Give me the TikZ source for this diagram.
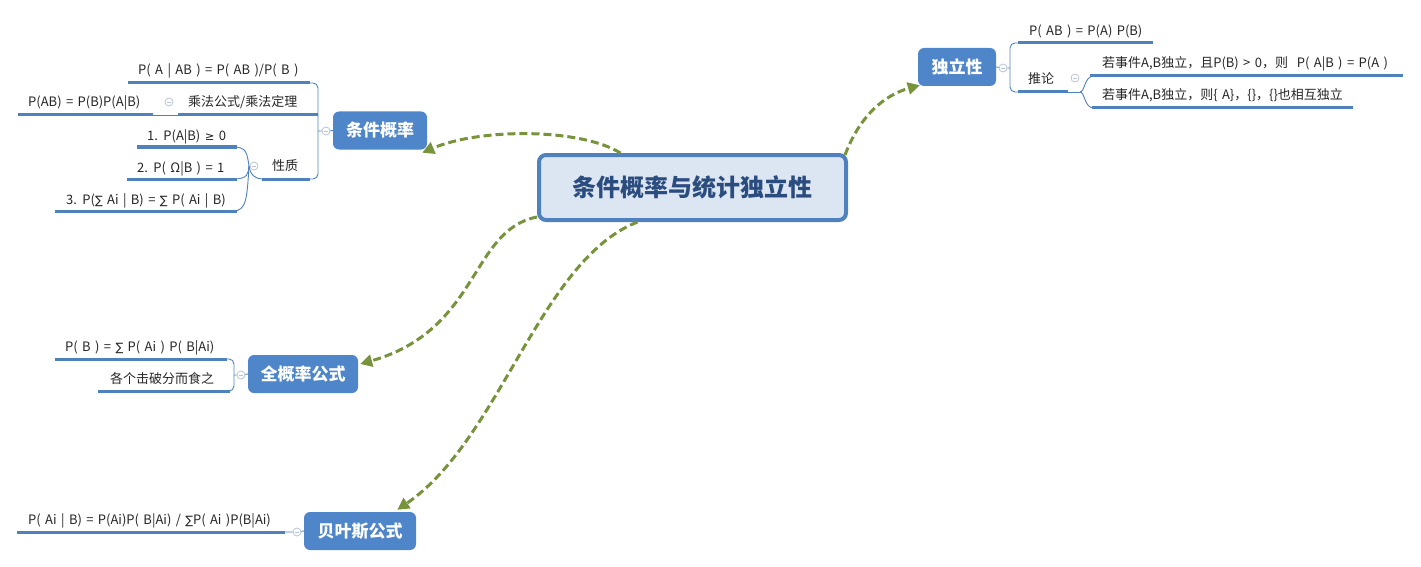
\documentclass[tikz,border=0pt]{standalone}
\usepackage{fontspec}
\setmainfont{Noto Sans CJK SC}
\newfontfamily\symf{DejaVu Sans}
\usetikzlibrary{arrows.meta}
\definecolor{lineblue}{HTML}{4F81BD}
\definecolor{nodeblue}{HTML}{4F86C9}
\definecolor{mainfill}{HTML}{DCE6F2}
\definecolor{maintext}{HTML}{2B4C7E}
\definecolor{conncol}{HTML}{77933C}
\definecolor{circ}{HTML}{B8C4D6}
\newcommand{\Sg}{{\symf\fontsize{11.5}{13}\selectfont ∑}}
\newcommand{\Geq}{{\symf\fontsize{11.5}{13}\selectfont ≥}}
\newcommand{\widesp}{\spaceskip 4.4pt\relax}
\tikzset{
  mainbox/.style={draw=lineblue, line width=4pt, fill=mainfill, rounded corners=7pt,
    minimum width=307pt, minimum height=65pt, inner sep=0pt,
    font=\fontsize{24}{28}\selectfont\bfseries, text=maintext},
  topic/.style={fill=nodeblue, rounded corners=6pt, text=white, inner sep=0pt,
    font=\fontsize{17}{20}\selectfont\bfseries, minimum height=38pt},
  leaf/.style={anchor=base west, inner sep=0pt, font=\fontsize{13}{15}\selectfont,
    execute at begin node=\widesp, text=black!85},
  uline/.style={draw=lineblue, line width=3pt},
  thinl/.style={draw=lineblue, line width=0.9pt},
  collapse/.style={circle, draw=circ, fill=white, minimum size=8pt, inner sep=0pt, line width=0.8pt,
    path picture={\draw[circ, line width=0.8pt] ([xshift=-2.2pt]path picture bounding box.center) -- ([xshift=2.2pt]path picture bounding box.center);}},
  conn/.style={draw=conncol, line width=3pt, dash pattern=on 8pt off 4pt,
    -{Triangle[length=12pt,width=12pt]}}
}
\begin{document}
\begin{tikzpicture}[x=1pt, y=-1pt]
\useasboundingbox (0,0) rectangle (1421,567);

% main and topic nodes
\node[mainbox] (main) at (692.5,187.5) {条件概率与统计独立性};
\node[topic, minimum width=94pt] (tk) at (380,130.5) {条件概率};
\node[topic, minimum width=78pt] (dl) at (957,67) {独立性};
\node[topic, minimum width=110pt] (qg) at (303,374) {全概率公式};
\node[topic, minimum width=112pt] (by) at (360,531) {贝叶斯公式};

% connectors
\draw[conn] ([xshift=-72pt]main.north) .. controls (580,128) and (480,128) .. ([xshift=-5pt,yshift=-3pt]tk.south east);
\draw[conn] ([xshift=-3pt,yshift=-2pt]main.north east) .. controls (860,115) and (885,95) .. ([xshift=2pt,yshift=1pt]dl.south west);
\draw[conn] ([yshift=5pt]main.south west) .. controls (470,230) and (480,330) .. ([xshift=2pt,yshift=10pt]qg.east);
\draw[conn] ([xshift=-55pt]main.south) .. controls (540,260) and (500,440) .. ([xshift=-19pt,yshift=2pt]by.north east);

% ---- 条件概率 branch
\node[collapse] (c1) at (326,131) {};
\draw[thinl] (tk.west) -- (c1) -- (318,131);
\draw[thinl, rounded corners=5pt] (306,83) -- (318,83) -- (318,179) -- (306,179);
\node[leaf] (l1) at (138,75) {P( A | AB ) = P( AB )/P( B )};
\draw[uline] (128,83) -- (310,83);
\node[leaf] (l2) at (188,107) {乘法公式/乘法定理};
\draw[uline] (178,115) -- (318,115);
\node[collapse] (c2) at (169,102) {};
\draw[thinl] (153,115) -- (178,115);
\node[leaf] (l2a) at (28,107) {P(AB) = P(B)P(A|B)};
\draw[uline] (18,115) -- (153,115);
\node[leaf] (l3) at (272,171) {性质};
\draw[uline] (262,179) -- (310,179);
\node[collapse] (c3) at (254,166) {};
\draw[thinl] (262,179) .. controls (256,179) and (250,175) .. (249,166);
\draw[thinl] (249,166) .. controls (247,152) and (246,147) .. (233,147);
\draw[thinl] (249,166) .. controls (248,174) and (248,179) .. (233,179);
\draw[thinl] (249,166) .. controls (247,200) and (246,211) .. (233,211);
\node[leaf] (l3a) at (147,140) {1. P(A|B) \Geq\ 0};
\draw[uline] (137,147) -- (237,147);
\node[leaf] (l3b) at (137,172) {2. P( Ω|B ) = 1};
\draw[uline] (127,179) -- (237,179);
\node[leaf] (l3c) at (66,204) {3. P(\Sg\ Ai | B) = \Sg\ P( Ai | B)};
\draw[uline] (55,211) -- (237,211);

% ---- 独立性 branch
\node[collapse] (c4) at (1003,68) {};
\draw[thinl] (dl.east) -- (c4) -- (1010,68);
\draw[thinl, rounded corners=5pt] (1022,43) -- (1010,43) -- (1010,92) -- (1022,92);
\node[leaf] (d1) at (1029,36) {P( AB ) = P(A) P(B)};
\draw[uline] (1018,43) -- (1153,43);
\node[leaf] (d2) at (1028,84) {推论};
\draw[uline] (1018,92) -- (1068,92);
\node[collapse] (c5) at (1075,78) {};
\draw[thinl] (1068,92) -- (1080,92);
\draw[thinl] (1080,92) .. controls (1085,92) and (1084,76) .. (1094,76);
\draw[thinl] (1080,92) .. controls (1085,92) and (1084,108) .. (1094,108);
\node[leaf] (d2a) at (1102,68) {若事件A,B独立，且P(B) > 0，则\ \ P( A|B ) = P(A )};
\draw[uline] (1090,76) -- (1403,76);
\node[leaf] (d2b) at (1102,100) {若事件A,B独立，则\{ A\}，\{\}，\{\}也相互独立};
\draw[uline] (1092,108) -- (1353,108);

% ---- 全概率公式 branch
\node[collapse] (c6) at (241,375) {};
\draw[thinl] (qg.west) -- (c6) -- (234,375);
\draw[thinl, rounded corners=5pt] (222,359) -- (234,359) -- (234,391) -- (222,391);
\node[leaf] (q1) at (65,351) {P( B ) = \Sg\ P( Ai ) P( B|Ai)};
\draw[uline] (55,359) -- (227,359);
\node[leaf] (q2) at (110,383) {各个击破分而食之};
\draw[uline] (98,391) -- (230,391);

% ---- 贝叶斯公式 branch
\node[collapse] (c7) at (297,532) {};
\draw[thinl] (by.west) -- (c7) -- (283,532);
\node[leaf] (b1) at (28,524) {P( Ai | B) = P(Ai)P( B|Ai) / \Sg P( Ai )P(B|Ai)};
\draw[uline] (17,532) -- (285,532);
\end{tikzpicture}
\end{document}
